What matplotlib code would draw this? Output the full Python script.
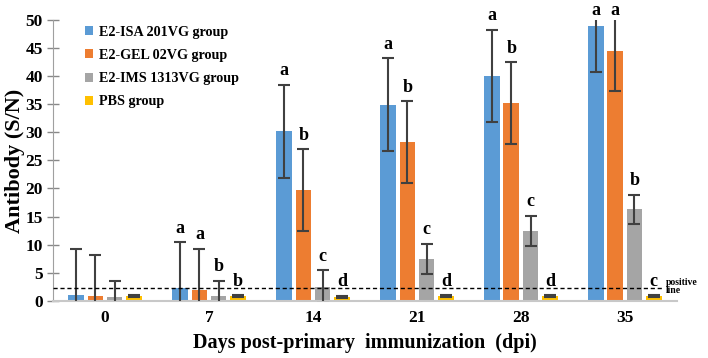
import matplotlib
matplotlib.use("Agg")
import matplotlib.pyplot as plt
import numpy as np

days = ["0", "7", "14", "21", "28", "35"]
groups = ["E2-ISA 201VG group", "E2-GEL 02VG group", "E2-IMS 1313VG group", "PBS group"]
colors = ["#5B9BD5", "#ED7D31", "#A5A5A5", "#FFC000"]

isa = [1.0, 2.2, 30.2, 34.9, 40.1, 49.0]
isa_err = [8.2, 8.2, 8.3, 8.3, 8.2, 8.2]
gel = [0.9, 1.9, 19.7, 28.2, 35.2, 44.5]
gel_err = [7.3, 7.3, 7.3, 7.3, 7.3, 7.2]
ims = [0.7, 0.9, 2.5, 7.4, 12.4, 16.3]
ims_err = [2.8, 2.6, 2.9, 2.7, 2.7, 2.6]
pbs = [0.8, 0.8, 0.7, 0.8, 0.8, 0.8]
pbs_err = [0.15, 0.15, 0.15, 0.15, 0.15, 0.15]

letters_isa = ["", "a", "a", "a", "a", "a"]
letters_gel = ["", "a", "b", "b", "b", "a"]
letters_ims = ["", "b", "c", "c", "c", "b"]
letters_pbs = ["", "b", "d", "d", "d", "c"]

positive_line = 2.3

values = [isa, gel, ims, pbs]
errs = [isa_err, gel_err, ims_err, pbs_err]
letters = [letters_isa, letters_gel, letters_ims, letters_pbs]

serif = ["Liberation Serif", "DejaVu Serif"]
plt.rcParams['font.family'] = serif

fig = plt.figure(figsize=(7.08, 3.58), dpi=100)
ax = fig.add_axes([0.075, 0.160, 0.881, 0.784])

x = np.arange(len(days))
step = 0.185
width = 0.15
for i, (vals, er, col, lab, lets) in enumerate(zip(values, errs, colors, groups, letters)):
    pos = x + (i - 1.5) * step
    ax.bar(pos, vals, width, color=col, label=lab, zorder=2)
    ax.errorbar(pos, vals, yerr=er, fmt="none", ecolor="#404040", elinewidth=1.5,
                capsize=4, capthick=1.5, zorder=3)
    for p, v, e, t in zip(pos, vals, er, lets):
        if t:
            top = v + e
            y = top + 1.0 if top < 50 else 50.2
            ax.text(p, y, t, ha="center", va="bottom", fontsize=13,
                    fontweight="bold", color="black", zorder=4, clip_on=False)

ax.axhline(positive_line, xmin=0, xmax=0.978, color="black", linestyle="--",
           linewidth=1.0, zorder=4, dashes=(3, 2))
ax.text(5.39, positive_line + 0.3, "positive\nline", fontsize=7, fontweight="bold",
        ha="left", va="center", linespacing=0.85, clip_on=False)

ax.set_xlim(-0.5, 5.5)
ax.set_ylim(0, 50)
ax.set_yticks(range(0, 51, 5))
ax.set_xticks(x)
ax.set_xticklabels(days)
ax.tick_params(axis="both", labelsize=12.5, colors="#888888", labelcolor="black")
ax.tick_params(axis="y", direction="inout", length=8, width=1)
ax.tick_params(axis="x", length=0, pad=7)
for lbl in ax.get_xticklabels() + ax.get_yticklabels():
    lbl.set_fontweight("bold")

for s in ["top", "right"]:
    ax.spines[s].set_visible(False)
ax.spines["left"].set_color("#A0A0A0")
ax.spines["bottom"].set_color("#C8C8C8")
ax.spines["bottom"].set_linewidth(1.5)

ax.set_xlabel("Days post-primary  immunization  (dpi)", fontsize=14.5, fontweight="bold", labelpad=5)
ax.set_ylabel("Antibody (S/N)", fontsize=16, fontweight="bold", labelpad=0)

leg = ax.legend(loc="upper left", bbox_to_anchor=(0.03, 1.025), frameon=False,
                prop={"family": serif, "weight": "bold", "size": 10.2},
                handlelength=0.6, handleheight=0.6, handletextpad=0.45, labelspacing=0.72)

fig.savefig("out.png", dpi=100)
